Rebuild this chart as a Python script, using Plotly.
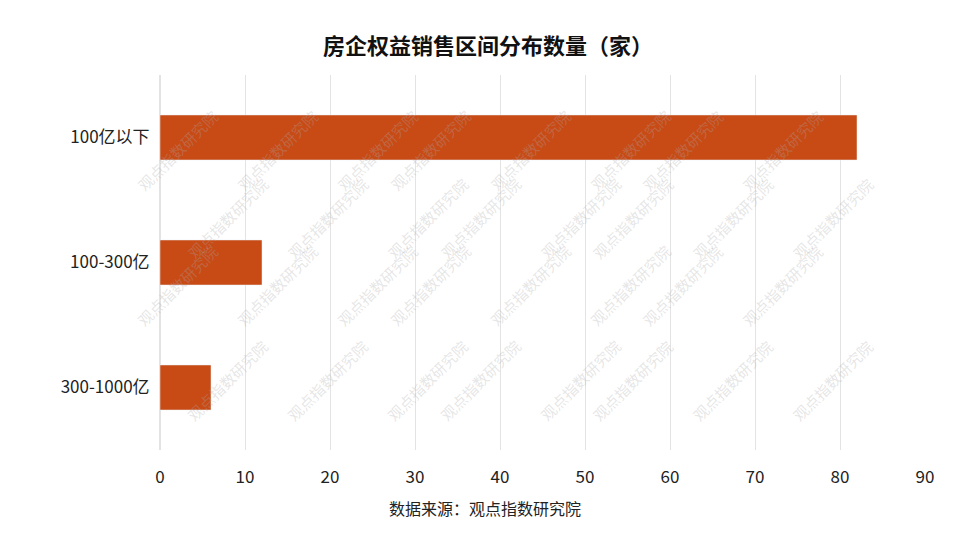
import plotly.graph_objects as go

categories = ["100亿以下", "100-300亿", "300-1000亿"]
values = [82, 12, 6]
ticks = [0, 10, 20, 30, 40, 50, 60, 70, 80, 90]

fig = go.Figure(go.Bar(y=categories, x=values, orientation="h",
                       marker_color="#C84B16", width=0.36))
font = "Noto Sans CJK SC"
L, R, T, B = 152, 917, 67, 442
def px(x, y):
    return (x - L) / (R - L), (B - y) / (B - T)

anns = []
for r, yy in enumerate([95, 210, 325, 420]):
    for c in range(8):
        xx = 122 + c * 100 + (50 if r % 2 else 0)
        if xx > 900:
            continue
        ax, ay = px(xx, yy)
        anns.append(dict(text="观点指数研究院", x=ax, y=ay, xref="paper", yref="paper",
                         showarrow=False, textangle=-45,
                         font=dict(size=15, color="rgba(170,170,170,0.3)")))
sx, sy = px(477, 514)
anns.append(dict(text="数据来源：观点指数研究院", x=sx, y=sy, xref="paper", yref="paper",
                 showarrow=False, font=dict(size=16, color="#222")))
fig.update_layout(
    width=960, height=540, paper_bgcolor="white", plot_bgcolor="white",
    font=dict(family=font, size=17, color="#222"),
    title=dict(text="<b>房企权益销售区间分布数量（家）</b>", x=0.5, y=1 - 38 / 540, xanchor="center",
               yanchor="middle", font=dict(size=22, color="#111")),
    margin=dict(l=L, r=960 - R, t=T, b=540 - B, autoexpand=False),
    xaxis=dict(range=[0, 90], tickvals=ticks, showgrid=True, gridcolor="#e3e3e3",
               zeroline=True, zerolinecolor="#e3e3e3", ticks="outside", ticklen=12, tickcolor="white"),
    yaxis=dict(autorange="reversed", ticks="outside", ticklen=6, tickcolor="white"),
    annotations=anns, showlegend=False,
)
fig.write_html("out.html")
